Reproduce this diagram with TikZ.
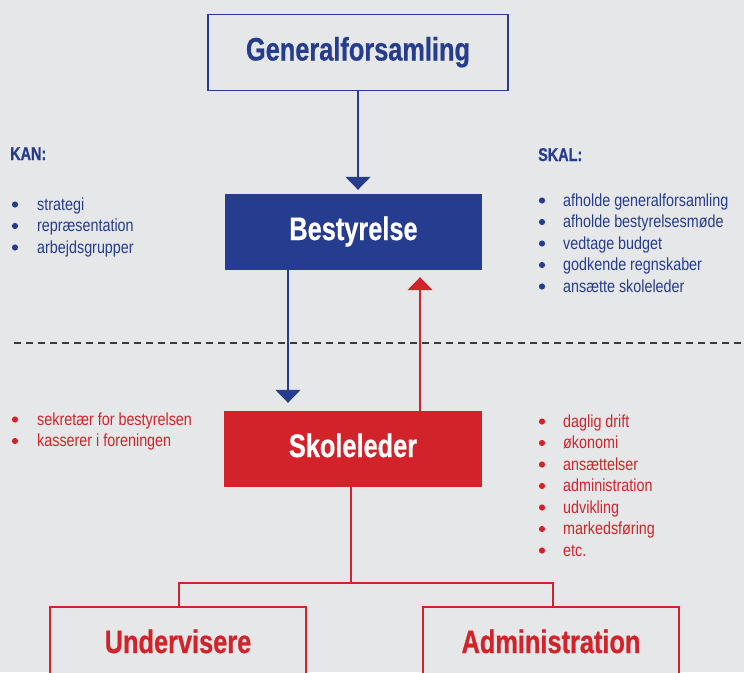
\documentclass[tikz,border=0pt]{standalone}
\usepackage{fontspec}
\setmainfont{Liberation Sans}
\newfontfamily\condfont[FakeStretch=0.82]{Liberation Sans}
\newfontfamily\condbold[FakeStretch=0.78,FakeBold=0.6]{Liberation Sans Bold}
\usetikzlibrary{arrows.meta}
\definecolor{bgc}{HTML}{E6E7E8}
\definecolor{myblue}{HTML}{263C8E}
\definecolor{myred}{HTML}{D2232A}
\definecolor{dashc}{HTML}{3A3A3A}
\tikzset{
  title/.style={font=\condbold\fontsize{32.5}{32.5}\selectfont, text height=23pt, text depth=7pt, inner sep=0pt, minimum height=76pt},
  outlinebox/.style={title, draw=#1, line width=1.4pt, text=#1, fill=bgc},
  solidbox/.style={title, fill=#1, text=white},
  listtxt/.style={font=\condfont\fontsize{17.5}{17.5}\selectfont, anchor=base west, inner sep=0pt, text=#1},
  headtxt/.style={font=\condbold\fontsize{18.5}{18.5}\selectfont, anchor=base west, inner sep=0pt, text=myblue},
  bul/.style={circle, fill=#1, inner sep=0pt, minimum size=6.2pt},
  conn/.style={draw=#1, line width=1.5pt},
  arr/.style={conn=#1, -{Triangle[width=25pt,length=13pt]}},
}
\begin{document}
\begin{tikzpicture}[x=1pt,y=-1pt]
\useasboundingbox[fill=bgc] (0,0) rectangle (744,672);
\clip (0,0) rectangle (744,672);
% boxes
\node[outlinebox=myblue, minimum width=300pt] (gen) at (358,52.5) {Generalforsamling};
\node[solidbox=myblue, minimum width=257pt] (best) at (353.5,232) {Bestyrelse};
\node[solidbox=myred, minimum width=258pt] (skole) at (353,449) {Skoleleder};
\node[outlinebox=myred, minimum width=256pt] (under) at (178,645) {Undervisere};
\node[outlinebox=myred, minimum width=256pt] (admin) at (551,645) {Administration};
% dashed separator
\coordinate (dl) at (14,343);
\coordinate (dr) at (744,343);
\draw[dashc, line width=1.2pt, dash pattern=on 6.5pt off 5.5pt] (dl) -- (dr);
% arrows
\draw[arr=myblue, shorten >=4pt] (gen.south) -- (gen.south |- best.north);
\draw[arr=myblue, shorten >=8pt] (best.south -| 288,0) -- (skole.north -| 288,0);
\draw[arr=myred, shorten >=7pt] (skole.north -| 420,0) -- (best.south -| 420,0);
% tree connectors
\coordinate (hj) at (351,583);
\draw[conn=myred] (skole.south -| hj) -- (hj);
\draw[conn=myred] (under.north -| 179,0) |- (hj) -| (admin.north -| 553,0);
% KAN list
\node[headtxt] (kan) at (10,160) {KAN:};
\foreach \t [count=\i] in {strategi, repræsentation, arbejdsgrupper}{
  \node[listtxt=myblue] (k\i) at (37,{210+21.5*(\i-1)}) {\t};
  \node[bul=myblue] (kb\i) at (15,{204.5+21.5*(\i-1)}) {};
}
% SKAL list
\node[headtxt] (skal) at (538,161) {SKAL:};
\foreach \t [count=\i] in {afholde generalforsamling, afholde bestyrelsesmøde, vedtage budget, godkende regnskaber, ansætte skoleleder}{
  \node[listtxt=myblue] (s\i) at (563,{206+21.5*(\i-1)}) {\t};
  \node[bul=myblue] (sb\i) at (542,{200.5+21.5*(\i-1)}) {};
}
% left red list
\foreach \t [count=\i] in {sekretær for bestyrelsen, kasserer i foreningen}{
  \node[listtxt=myred] (l\i) at (37,{425+21.5*(\i-1)}) {\t};
  \node[bul=myred] (lb\i) at (15,{419.5+21.5*(\i-1)}) {};
}
% right red list
\foreach \t [count=\i] in {daglig drift, økonomi, ansættelser, administration, udvikling, markedsføring, etc.}{
  \node[listtxt=myred] (r\i) at (563,{427+21.5*(\i-1)}) {\t};
  \node[bul=myred] (rb\i) at (542,{421.5+21.5*(\i-1)}) {};
}
\end{tikzpicture}
\end{document}
